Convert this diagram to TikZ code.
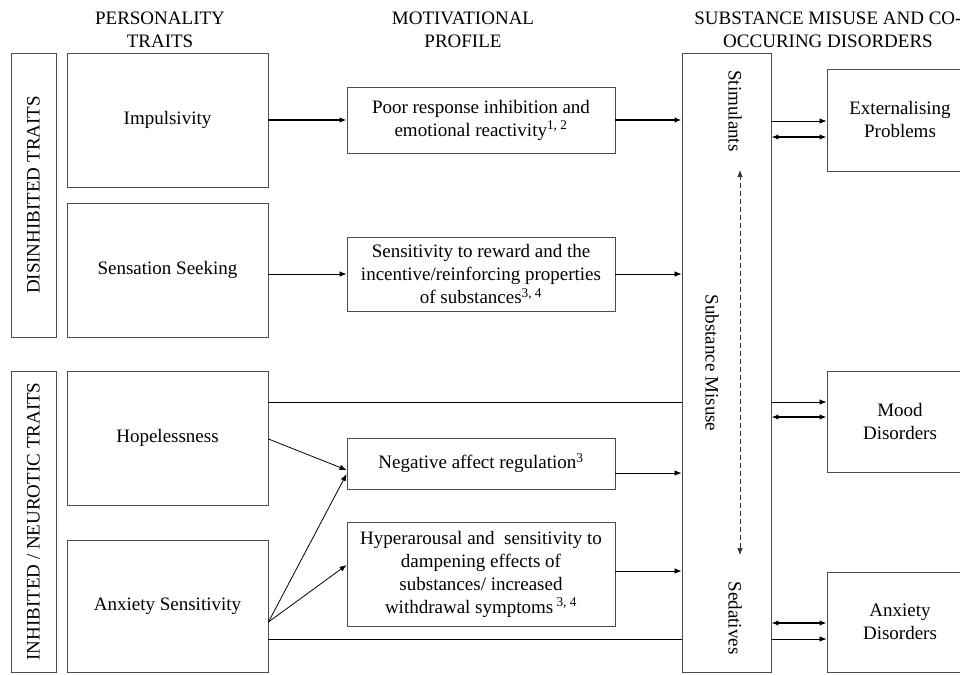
\documentclass[tikz,border=0pt]{standalone}
\usepackage{fontspec}
\setmainfont{Liberation Serif}
\usetikzlibrary{arrows.meta}
\newcommand\dfont{\fontsize{19}{23}\selectfont}
\begin{document}
\begin{tikzpicture}[x=1pt,y=-1pt,
  box/.style={draw=black!70, line width=0.9pt, rectangle, inner sep=0pt, align=center, font=\dfont},
  lbl/.style={inner sep=0pt, align=center, font=\dfont},
  conn/.style={draw=black, line width=0.8pt, -{Latex[length=7pt,width=5.5pt]}},
  bold conn/.style={conn, line width=1.6pt},
  dbl/.style={draw=black, line width=1.3pt, {Latex[length=7pt,width=5.5pt]}-{Latex[length=7pt,width=5.5pt]}},
  plain/.style={draw=black, line width=0.8pt}
]
\useasboundingbox (0,0) rectangle (960,674);
\clip (0,0) rectangle (960,674);

% headers
\node[lbl] (h1) at (160,29.5) {PERSONALITY\\TRAITS};
\node[lbl] (h2) at (463,29.5) {MOTIVATIONAL\\PROFILE};
\node[lbl] (h3) at (828,29.5) {SUBSTANCE MISUSE AND CO-\\OCCURING DISORDERS};

% left group labels
\node[box, rotate=90, minimum width=284pt, minimum height=45pt] (dis) at (33.5,195) {DISINHIBITED TRAITS};
\node[box, rotate=90, minimum width=301pt, minimum height=45pt] (inh) at (33.5,521.5) {INHIBITED / NEUROTIC TRAITS};

% traits
\node[box, minimum width=201pt, minimum height=134pt] (imp) at (167.5,120) {Impulsivity};
\node[box, minimum width=201pt, minimum height=134pt] (sen) at (167.5,270) {Sensation Seeking};
\node[box, minimum width=201pt, minimum height=134pt] (hop) at (167.5,438) {Hopelessness};
\node[box, minimum width=201pt, minimum height=132pt] (anx) at (167.5,606) {Anxiety Sensitivity};

% motivational profile
\node[box, minimum width=268pt, minimum height=66pt] (poor) at (481,120) {Poor response inhibition and\\emotional reactivity\textsuperscript{1, 2}};
\node[box, minimum width=268pt, minimum height=74pt] (rew) at (481,274) {Sensitivity to reward and the\\incentive/reinforcing properties\\of substances\textsuperscript{3, 4}};
\node[box, minimum width=268pt, minimum height=51pt] (neg) at (481,463.5) {Negative affect regulation\textsuperscript{3}};
\node[box, minimum width=268pt, minimum height=104pt] (hyp) at (481,574) {Hyperarousal and\ \ sensitivity to\\dampening effects of\\substances/ increased\\withdrawal symptoms\,\textsuperscript{3, 4}};

% disorders
\node[box, minimum width=146pt, minimum height=102pt] (ext) at (900,120) {Externalising\\Problems};
\node[box, minimum width=146pt, minimum height=101pt] (mood) at (900,421.5) {Mood\\Disorders};
\node[box, minimum width=146pt, minimum height=100pt] (anxd) at (900,622) {Anxiety\\Disorders};

% direct links passing behind the substance box
\draw[conn] (hop.east |- 0,402) -- (mood.west |- 0,402);
\draw[conn] (anx.east |- 0,639) -- (anxd.west |- 0,639);

% substance misuse box
\node[box, fill=white, minimum width=89pt, minimum height=619pt] (sub) at (726.5,362.5) {};
\node[lbl, rotate=-90] (stim) at (735,111) {Stimulants};
\node[lbl, rotate=-90] (sm) at (712,363) {Substance Misuse};
\node[lbl, rotate=-90] (sed) at (735,618) {Sedatives};
\coordinate (dtop) at (740,170);
\coordinate (dbot) at (740,555);
\draw[draw=black!80, line width=0.7pt, dash pattern=on 5pt off 3pt, {Latex[length=7pt,width=5.5pt]}-{Latex[length=7pt,width=5.5pt]}] (dbot) -- (dtop);

% traits -> motivational profile
\draw[bold conn] (imp.east) -- (poor.west);
\draw[conn] (rew.west -| sen.east) -- (rew.west);
\draw[conn] (hop.east |- 0,439) -- (neg.west |- 0,470);
\draw[conn] (anx.east |- 0,622) -- (neg.west |- 0,474);
\draw[conn] (anx.east |- 0,622) -- (hyp.west |- 0,565);

% motivational profile -> substance misuse
\draw[bold conn] (poor.east) -- (poor.east -| sub.west);
\draw[conn] (rew.east) -- (rew.east -| sub.west);
\draw[conn] (neg.east |- 0,473) -- (sub.west |- 0,473);
\draw[conn] (hyp.east |- 0,571) -- (sub.west |- 0,571);

% substance misuse -> disorders
\draw[conn] (sub.east |- 0,121) -- (ext.west |- 0,121);
\draw[dbl] (sub.east |- 0,137) -- (ext.west |- 0,137);
\draw[dbl] (sub.east |- 0,417) -- (mood.west |- 0,417);
\draw[dbl] (sub.east |- 0,623) -- (anxd.west |- 0,623);
\end{tikzpicture}
\end{document}
